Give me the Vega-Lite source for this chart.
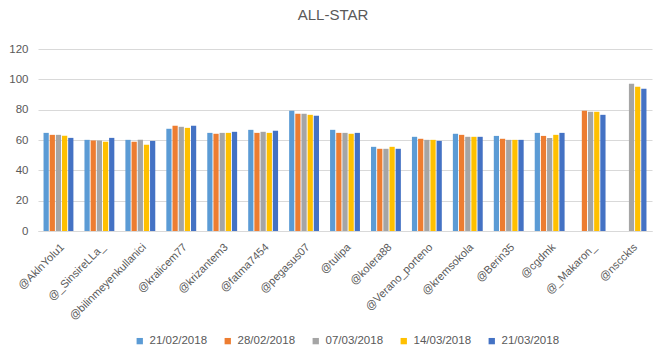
{
  "$schema": "https://vega.github.io/schema/vega-lite/v6.json",
  "autosize": "none",
  "width": 614,
  "height": 182,
  "padding": {"left": 38, "top": 49, "right": 14, "bottom": 132},
  "background": "white",
  "config": {
    "font": "Liberation Sans",
    "view": {"stroke": null}
  },
  "title": {
    "text": "ALL-STAR",
    "fontSize": 15,
    "font": "Liberation Sans",
    "fontWeight": "normal",
    "color": "#595959",
    "anchor": "middle",
    "dx": -12,
    "offset": 20
  },
  "data": {
    "values": [
      {"user": "@AklnYolu1", "date": "21/02/2018", "value": 64.7},
      {"user": "@AklnYolu1", "date": "28/02/2018", "value": 63.4},
      {"user": "@AklnYolu1", "date": "07/03/2018", "value": 63.4},
      {"user": "@AklnYolu1", "date": "14/03/2018", "value": 62.8},
      {"user": "@AklnYolu1", "date": "21/03/2018", "value": 61.4},
      {"user": "@_SinsireLLa_", "date": "21/02/2018", "value": 60.1},
      {"user": "@_SinsireLLa_", "date": "28/02/2018", "value": 59.7},
      {"user": "@_SinsireLLa_", "date": "07/03/2018", "value": 59.7},
      {"user": "@_SinsireLLa_", "date": "14/03/2018", "value": 58.8},
      {"user": "@_SinsireLLa_", "date": "21/03/2018", "value": 61.4},
      {"user": "@bilinmeyenkullanici", "date": "21/02/2018", "value": 60.1},
      {"user": "@bilinmeyenkullanici", "date": "28/02/2018", "value": 58.8},
      {"user": "@bilinmeyenkullanici", "date": "07/03/2018", "value": 60.1},
      {"user": "@bilinmeyenkullanici", "date": "14/03/2018", "value": 56.8},
      {"user": "@bilinmeyenkullanici", "date": "21/03/2018", "value": 59.4},
      {"user": "@kralicem77", "date": "21/02/2018", "value": 67.4},
      {"user": "@kralicem77", "date": "28/02/2018", "value": 69.4},
      {"user": "@kralicem77", "date": "07/03/2018", "value": 68.7},
      {"user": "@kralicem77", "date": "14/03/2018", "value": 68.0},
      {"user": "@kralicem77", "date": "21/03/2018", "value": 69.4},
      {"user": "@krizantem3", "date": "21/02/2018", "value": 64.7},
      {"user": "@krizantem3", "date": "28/02/2018", "value": 64.1},
      {"user": "@krizantem3", "date": "07/03/2018", "value": 64.7},
      {"user": "@krizantem3", "date": "14/03/2018", "value": 64.7},
      {"user": "@krizantem3", "date": "21/03/2018", "value": 65.4},
      {"user": "@fatma7454", "date": "21/02/2018", "value": 66.7},
      {"user": "@fatma7454", "date": "28/02/2018", "value": 64.7},
      {"user": "@fatma7454", "date": "07/03/2018", "value": 65.4},
      {"user": "@fatma7454", "date": "14/03/2018", "value": 64.7},
      {"user": "@fatma7454", "date": "21/03/2018", "value": 66.1},
      {"user": "@pegasus07", "date": "21/02/2018", "value": 79.3},
      {"user": "@pegasus07", "date": "28/02/2018", "value": 77.3},
      {"user": "@pegasus07", "date": "07/03/2018", "value": 77.3},
      {"user": "@pegasus07", "date": "14/03/2018", "value": 76.6},
      {"user": "@pegasus07", "date": "21/03/2018", "value": 76.0},
      {"user": "@tulipa", "date": "21/02/2018", "value": 66.7},
      {"user": "@tulipa", "date": "28/02/2018", "value": 64.7},
      {"user": "@tulipa", "date": "07/03/2018", "value": 64.7},
      {"user": "@tulipa", "date": "14/03/2018", "value": 64.1},
      {"user": "@tulipa", "date": "21/03/2018", "value": 64.7},
      {"user": "@kolera88", "date": "21/02/2018", "value": 55.5},
      {"user": "@kolera88", "date": "28/02/2018", "value": 54.2},
      {"user": "@kolera88", "date": "07/03/2018", "value": 54.2},
      {"user": "@kolera88", "date": "14/03/2018", "value": 55.5},
      {"user": "@kolera88", "date": "21/03/2018", "value": 54.2},
      {"user": "@Verano_porteno", "date": "21/02/2018", "value": 62.1},
      {"user": "@Verano_porteno", "date": "28/02/2018", "value": 60.8},
      {"user": "@Verano_porteno", "date": "07/03/2018", "value": 60.1},
      {"user": "@Verano_porteno", "date": "14/03/2018", "value": 60.1},
      {"user": "@Verano_porteno", "date": "21/03/2018", "value": 59.4},
      {"user": "@kremsokola", "date": "21/02/2018", "value": 64.1},
      {"user": "@kremsokola", "date": "28/02/2018", "value": 63.4},
      {"user": "@kremsokola", "date": "07/03/2018", "value": 62.1},
      {"user": "@kremsokola", "date": "14/03/2018", "value": 62.1},
      {"user": "@kremsokola", "date": "21/03/2018", "value": 62.1},
      {"user": "@Berin35", "date": "21/02/2018", "value": 62.7},
      {"user": "@Berin35", "date": "28/02/2018", "value": 60.8},
      {"user": "@Berin35", "date": "07/03/2018", "value": 60.1},
      {"user": "@Berin35", "date": "14/03/2018", "value": 60.1},
      {"user": "@Berin35", "date": "21/03/2018", "value": 60.1},
      {"user": "@cgdmk", "date": "21/02/2018", "value": 64.7},
      {"user": "@cgdmk", "date": "28/02/2018", "value": 62.7},
      {"user": "@cgdmk", "date": "07/03/2018", "value": 61.4},
      {"user": "@cgdmk", "date": "14/03/2018", "value": 63.4},
      {"user": "@cgdmk", "date": "21/03/2018", "value": 64.7},
      {"user": "@_Makaron_", "date": "28/02/2018", "value": 79.3},
      {"user": "@_Makaron_", "date": "07/03/2018", "value": 78.6},
      {"user": "@_Makaron_", "date": "14/03/2018", "value": 78.6},
      {"user": "@_Makaron_", "date": "21/03/2018", "value": 76.6},
      {"user": "@nscckts", "date": "07/03/2018", "value": 97.1},
      {"user": "@nscckts", "date": "14/03/2018", "value": 95.1},
      {"user": "@nscckts", "date": "21/03/2018", "value": 93.8}
    ]
  },
  "mark": {"type": "bar"},
  "encoding": {
    "x": {
      "field": "user",
      "type": "nominal",
      "sort": null,
      "title": null,
      "scale": {"paddingInner": 0.27, "paddingOuter": 0.135},
      "axis": {
        "labelAngle": -45,
        "labelAlign": "right",
        "labelBaseline": "top",
        "labelFontSize": 11,
        "labelColor": "#595959",
        "labelPadding": 10,
        "ticks": false,
        "domainColor": "#d9d9d9",
        "labelOverlap": false,
        "labelLimit": 300
      }
    },
    "xOffset": {
      "field": "date",
      "type": "nominal",
      "sort": ["21/02/2018", "28/02/2018", "07/03/2018", "14/03/2018", "21/03/2018"],
      "scale": {"domain": ["21/02/2018", "28/02/2018", "07/03/2018", "14/03/2018", "21/03/2018"], "paddingInner": 0.15}
    },
    "y": {
      "field": "value",
      "type": "quantitative",
      "title": null,
      "scale": {"domain": [0, 120], "nice": false},
      "axis": {
        "values": [0, 20, 40, 60, 80, 100, 120],
        "domain": false,
        "ticks": false,
        "gridColor": "#d9d9d9",
        "labelColor": "#595959",
        "labelFontSize": 11.5,
        "labelPadding": 10
      }
    },
    "color": {
      "field": "date",
      "type": "nominal",
      "sort": ["21/02/2018", "28/02/2018", "07/03/2018", "14/03/2018", "21/03/2018"],
      "scale": {
        "domain": ["21/02/2018", "28/02/2018", "07/03/2018", "14/03/2018", "21/03/2018"],
        "range": ["#5B9BD5", "#ED7D31", "#A5A5A5", "#FFC000", "#4472C4"]
      },
      "legend": {
        "title": null,
        "orient": "none",
        "legendX": 96,
        "legendY": 286,
        "direction": "horizontal",
        "columns": 5,
        "symbolType": "square",
        "symbolSize": 40,
        "symbolStrokeWidth": 0,
        "labelFontSize": 11.5,
        "labelColor": "#595959",
        "labelOffset": 4,
        "columnPadding": 14
      }
    }
  }
}
